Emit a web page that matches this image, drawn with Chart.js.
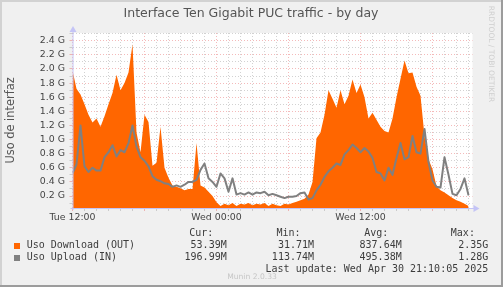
<!DOCTYPE html>
<html>
<head>
<meta charset="utf-8">
<script src="https://cdn.jsdelivr.net/npm/chart.js@4.4.1/dist/chart.umd.min.js"></script>
<style>
  html, body { margin: 0; padding: 0; background: #f0f0f0; }
  #wrap { width: 503px; height: 287px; }
</style>
</head>
<body>
<div id="wrap"><canvas id="traffic" width="503" height="287"></canvas></div>
<script>
// one sample every 20 minutes, starting Tue 12:00 (values in G)
const stepMinutes = 20;

const download = [
  1.98, 1.72, 1.64, 1.50, 1.35, 1.24, 1.30, 1.18, 1.33, 1.50,
  1.66, 1.92, 1.70, 1.80, 1.95, 2.35, 1.10, 0.82, 1.35, 1.25,
  0.63, 0.67, 1.18, 0.60, 0.46, 0.35, 0.33, 0.31, 0.28, 0.30,
  0.30, 0.95, 0.35, 0.32, 0.26, 0.20, 0.11, 0.06, 0.09, 0.07,
  0.10, 0.06, 0.09, 0.08, 0.10, 0.07, 0.09, 0.08, 0.10, 0.06,
  0.09, 0.07, 0.06, 0.09, 0.08, 0.10, 0.12, 0.14, 0.16, 0.22,
  0.40, 1.02, 1.10, 1.35, 1.70, 1.58, 1.45, 1.70, 1.50, 1.62,
  1.85, 1.66, 1.78, 1.60, 1.30, 1.38, 1.28, 1.18, 1.12, 1.10,
  1.30, 1.60, 1.86, 2.12, 1.94, 1.95, 1.75, 1.62, 1.05, 0.72,
  0.58, 0.34, 0.28, 0.25, 0.21, 0.17, 0.14, 0.12, 0.09, 0.06
];

const upload = [
  0.52, 0.65, 1.20, 0.62, 0.54, 0.60, 0.56, 0.56, 0.75, 0.82,
  0.92, 0.76, 0.85, 0.82, 0.95, 1.20, 0.90, 0.75, 0.70, 0.62,
  0.48, 0.43, 0.41, 0.38, 0.37, 0.33, 0.35, 0.33, 0.36, 0.40,
  0.40, 0.43, 0.57, 0.66, 0.45, 0.40, 0.33, 0.52, 0.45, 0.26,
  0.45, 0.22, 0.24, 0.22, 0.25, 0.22, 0.25, 0.24, 0.26, 0.21,
  0.23, 0.21, 0.19, 0.17, 0.19, 0.19, 0.20, 0.24, 0.25, 0.15,
  0.17, 0.28, 0.36, 0.47, 0.55, 0.60, 0.66, 0.64, 0.79, 0.85,
  0.93, 0.88, 0.82, 0.88, 0.83, 0.74, 0.54, 0.52, 0.42, 0.60,
  0.50, 0.74, 0.95, 0.72, 0.75, 1.05, 0.82, 0.80, 1.15, 0.68,
  0.42, 0.33, 0.32, 0.75, 0.50, 0.23, 0.21, 0.30, 0.45, 0.21
];

const xTickHours = [0, 12, 24];
const xTickLabels = ['Tue 12:00', 'Wed 00:00', 'Wed 12:00'];

const statHeaders = ['Cur:', 'Min:', 'Avg:', 'Max:'];
const downloadStats = ['53.39M', '31.71M', '837.64M', '2.35G'];
const uploadStats = ['196.99M', '113.74M', '495.38M', '1.28G'];

const toPoints = arr => arr.map((v, i) => ({ x: i * stepMinutes / 60, y: v }));

const ORANGE = '#ff6600';
const GREY = '#808080';
const TEXT = '#3c3c3c';
const AXIS = '#c4c4f6';
const MGRID = 'rgba(235,130,130,0.55)';
const GRID = 'rgba(165,165,165,0.5)';

const munin = {
  id: 'munin',
  beforeDraw(chart) {
    const { ctx, chartArea: a } = chart;
    ctx.save();
    ctx.fillStyle = '#f0f0f0';
    ctx.fillRect(0, 0, chart.width, chart.height);
    ctx.fillStyle = '#ffffff';
    ctx.fillRect(a.left, a.top, a.right - a.left, a.bottom - a.top);
    // frame: light top/left, dark bottom/right
    ctx.fillStyle = '#d2d2d2';
    ctx.fillRect(0, 0, chart.width, 2);
    ctx.fillRect(0, 0, 2, chart.height);
    ctx.fillStyle = '#9c9c9c';
    ctx.fillRect(0, chart.height - 2, chart.width, 2);
    ctx.fillRect(chart.width - 2, 0, 2, chart.height);
    ctx.restore();
  },
  afterDatasetsDraw(chart) {
    const { ctx, chartArea: a } = chart;
    ctx.save();
    ctx.strokeStyle = AXIS;
    ctx.lineWidth = 1;
    ctx.beginPath();
    ctx.moveTo(a.left + 0.5, a.bottom + 2);
    ctx.lineTo(a.left + 0.5, a.top - 2);
    ctx.moveTo(a.left - 2, a.bottom + 0.5);
    ctx.lineTo(a.right + 2, a.bottom + 0.5);
    ctx.stroke();
    // arrows
    ctx.fillStyle = AXIS;
    ctx.beginPath();
    ctx.moveTo(a.right + 7, a.bottom + 0.5);
    ctx.lineTo(a.right + 1, a.bottom - 3);
    ctx.lineTo(a.right + 1, a.bottom + 4);
    ctx.closePath();
    ctx.fill();
    ctx.beginPath();
    ctx.moveTo(a.left + 0.5, a.top - 7);
    ctx.lineTo(a.left - 3, a.top - 1);
    ctx.lineTo(a.left + 4, a.top - 1);
    ctx.closePath();
    ctx.fill();
    ctx.restore();
  },
  afterDraw(chart) {
    const { ctx, chartArea: a } = chart;
    ctx.save();
    ctx.fillStyle = '#555555';
    ctx.textAlign = 'center';
    ctx.textBaseline = 'middle';
    ctx.font = '12.5px "DejaVu Sans"';
    ctx.fillText('Interface Ten Gigabit PUC traffic - by day', 251, 14);

    ctx.save();
    ctx.translate(11, (a.top + a.bottom) / 2);
    ctx.rotate(-Math.PI / 2);
    ctx.font = '11.4px "DejaVu Sans"';
    ctx.fillText('Uso de interfaz', 0, 0);
    ctx.restore();

    // watermark
    ctx.save();
    ctx.translate(491, 54);
    ctx.rotate(Math.PI / 2);
    ctx.fillStyle = '#cfcfcf';
    ctx.font = '7.5px "DejaVu Sans"';
    ctx.fillText('RRDTOOL / TOBI OETIKER', 0, 0);
    ctx.restore();

    // legend
    ctx.font = '10px "DejaVu Sans Mono"';
    ctx.fillStyle = TEXT;
    const colRight = [226.7, 314, 401.7, 488.3];
    ctx.textAlign = 'right';
    statHeaders.forEach((h, i) => ctx.fillText(h, colRight[i] - 13.4, 233.5));
    downloadStats.forEach((s, i) => ctx.fillText(s, colRight[i], 245.5));
    uploadStats.forEach((s, i) => ctx.fillText(s, colRight[i], 257.5));
    ctx.fillText('Last update: Wed Apr 30 21:10:05 2025', 488.3, 269.5);
    ctx.textAlign = 'left';
    ctx.fillText('Uso Download (OUT)', 26.7, 245.5);
    ctx.fillText('Uso Upload (IN)', 26.7, 257.5);
    ctx.fillStyle = ORANGE;
    ctx.fillRect(14, 243, 6, 6);
    ctx.fillStyle = GREY;
    ctx.fillRect(14, 255, 6, 6);

    ctx.textAlign = 'center';
    ctx.fillStyle = '#c6c6c6';
    ctx.font = '7.6px "DejaVu Sans"';
    ctx.fillText('Munin 2.0.33', 252, 277);
    ctx.restore();
  }
};

const majorY = v => Math.round(v * 10) % 2 === 0;
const majorX = v => Math.round(v) % 6 === 0;

new Chart(document.getElementById('traffic').getContext('2d'), {
  type: 'line',
  data: {
    datasets: [
      {
        label: 'Uso Download (OUT)',
        data: toPoints(download),
        borderWidth: 0,
        borderColor: ORANGE,
        backgroundColor: ORANGE,
        fill: 'start',
        pointRadius: 0,
        tension: 0,
        order: 2
      },
      {
        label: 'Uso Upload (IN)',
        data: toPoints(upload),
        borderWidth: 2,
        borderColor: GREY,
        borderJoinStyle: 'round',
        fill: false,
        pointRadius: 0,
        tension: 0,
        order: 1
      }
    ]
  },
  options: {
    responsive: false,
    animation: false,
    devicePixelRatio: 1,
    layout: { padding: { top: 33, right: 30.5, left: 0, bottom: 0 } },
    plugins: { legend: { display: false }, tooltip: { enabled: false } },
    scales: {
      x: {
        type: 'linear',
        min: 0,
        max: 400 / 12,
        afterFit: s => { s.height = 79; },
        afterBuildTicks: s => {
          const t = [];
          for (let h = 0; h <= 33; h++) t.push({ value: h });
          s.ticks = t;
        },
        grid: {
          color: c => majorX(c.tick.value) ? MGRID : GRID,
          tickLength: 3,
          lineWidth: 1
        },
        border: { display: false, dash: [1, 2] },
        ticks: {
          autoSkip: false,
          maxRotation: 0,
          padding: 0.5,
          color: '#444444',
          font: { family: 'DejaVu Sans', size: 9.4 },
          callback: v => {
            const k = xTickHours.indexOf(Math.round(v));
            return k >= 0 && Math.abs(v - Math.round(v)) < 1e-6 ? xTickLabels[k] : '';
          }
        }
      },
      y: {
        min: 0.03,
        max: 2.51,
        afterFit: s => { s.width = 72.5; },
        afterBuildTicks: s => {
          const t = [];
          for (let k = 1; k <= 25; k++) t.push({ value: k / 10 });
          s.ticks = t;
        },
        grid: {
          color: c => majorY(c.tick.value) ? MGRID : GRID,
          tickLength: 3,
          lineWidth: 1
        },
        border: { display: false, dash: [1, 2] },
        ticks: {
          autoSkip: false,
          padding: 4.5,
          color: '#444444',
          font: { family: 'DejaVu Sans', size: 9.4 },
          callback: v => majorY(v) ? v.toFixed(1) + ' G' : ''
        }
      }
    }
  },
  plugins: [munin]
});
</script>
</body>
</html>
